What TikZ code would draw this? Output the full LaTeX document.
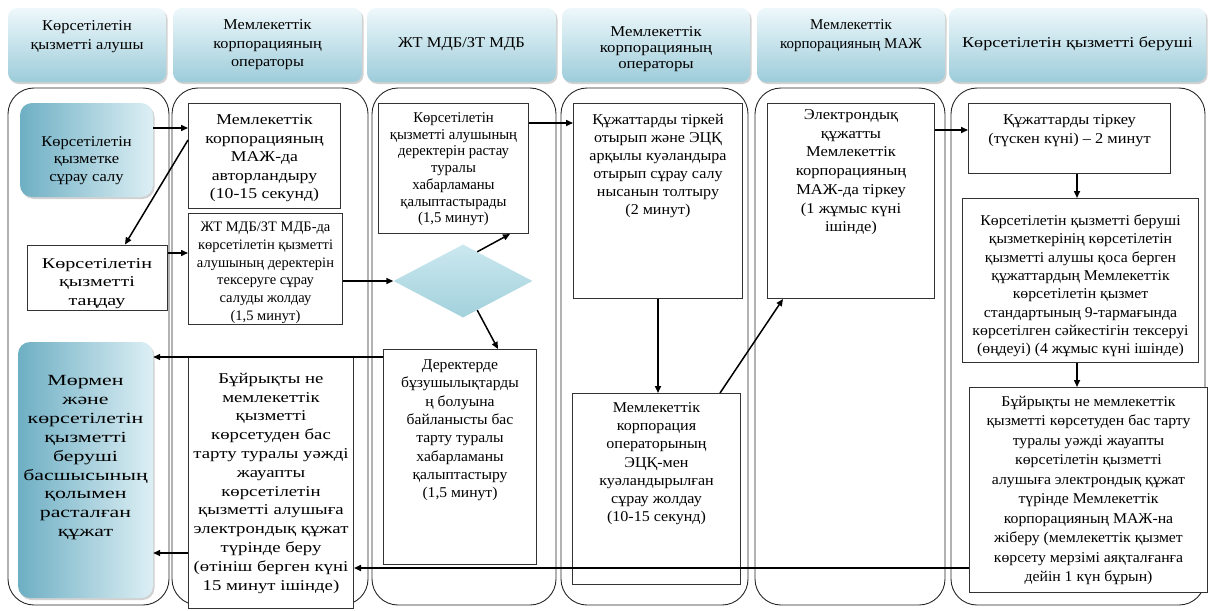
\documentclass[tikz,border=0pt]{standalone}
\usepackage{fontspec}
\setmainfont{Liberation Serif}
\usepackage{graphicx}
\usepackage{tikz}
\usetikzlibrary{arrows.meta,shapes.geometric,shadows}
\definecolor{headtop}{HTML}{EEF8FB}
\definecolor{headbot}{HTML}{9DCCDA}
\definecolor{tealdark}{HTML}{6EAFC3}
\definecolor{teallight}{HTML}{DDEFF5}
\definecolor{rhombtop}{HTML}{CBE8EF}
\definecolor{rhombbot}{HTML}{A2D1DC}
\tikzset{>/.tip={Triangle[length=7pt,width=6pt]},
  every node/.style={font=\fontsize{15}{18.5}\selectfont},
  head/.style={rounded corners=9pt, top color=headtop, bottom color=headbot, inner sep=0pt, minimum height=74pt,
    drop shadow={shadow xshift=1.5pt, shadow yshift=-2pt, opacity=0.3, fill=black!60}},
  client/.style={rounded corners=12pt, left color=tealdark, right color=teallight, inner sep=0pt,
    drop shadow={shadow xshift=1.5pt, shadow yshift=-2pt, opacity=0.3, fill=black!60}},
  lane/.style={draw=black!85, line width=0.9pt, rounded corners=26pt},
  task/.style={draw=black!80, line width=1pt, fill=white, inner sep=3pt, anchor=north west},
  rhomb/.style={diamond, aspect=1.9, inner sep=0pt, top color=rhombtop, bottom color=rhombbot},
  flow/.style={->, line width=1.5pt}}
\newcommand{\headtxt}[3][0pt]{\raisebox{#1}[0pt][0pt]{\scalebox{#2}[1]{\begin{tabular}{@{}c@{}}#3\end{tabular}}}}
\newcommand{\boxtxt}[5][t]{\parbox[t][#3][#1]{#2}{\centering\scalebox{#4}[1]{\begin{tabular}[t]{@{}c@{}}#5\end{tabular}}}}

\begin{document}
\begin{tikzpicture}[x=1pt, y=-1pt]
\useasboundingbox (0,0) rectangle (1209,610);
\node[head, minimum width=158pt] (h1) at (87,45) {\headtxt[5pt]{1.09}{Көрсетілетін\\ қызметті алушы}};
\node[head, minimum width=189pt] (h2) at (267.5,45) {\headtxt[-3pt]{1.08}{Мемлекеттік\\ корпорацияның\\ операторы}};
\node[head, minimum width=189pt] (h3) at (461.5,45) {\headtxt[-2pt]{1.1}{ЖТ МДБ/ЗТ МДБ}};
\node[head, minimum width=188pt, font=\fontsize{15}{16}\selectfont] (h4) at (656,45) {\headtxt[-8pt]{1.12}{Мемлекеттік\\ корпорацияның\\ операторы}};
\node[head, minimum width=188pt] (h5) at (851,45) {\headtxt[6pt]{1.0}{Мемлекеттік\\ корпорацияның МАЖ}};
\node[head, minimum width=257pt] (h6) at (1077.5,45) {\headtxt[-2pt]{1.21}{Көрсетілетін қызметті беруші}};

\draw[lane] (8,88) rectangle (169,605);
\draw[lane] (172,88) rectangle (368,605);
\draw[lane] (372,88) rectangle (556,605);
\draw[lane] (561,88) rectangle (748,605);
\draw[lane] (755,88) rectangle (945,605);
\draw[lane] (951,88) rectangle (1205,605);

\node[client, minimum width=133pt, minimum height=94pt, font=\fontsize{15}{17.5}\selectfont] (req) at (86.5,150) {\headtxt[-14pt]{1.1}{Көрсетілетін\\ қызметке\\ сұрау салу}};
\node[draw=black!80, line width=1pt, fill=white, inner sep=0pt, minimum width=140pt, minimum height=65pt] (choose) at (97,277.5) {\headtxt[-9pt]{1.34}{Көрсетілетін\\ қызметті\\ таңдау}};
\node[client, minimum width=135pt, minimum height=256pt, font=\fontsize{15.5}{18.9}\selectfont] (result) at (85.5,470) {\headtxt[9pt]{1.41}{Мөрмен\\ және\\ көрсетілетін\\ қызметті\\ беруші\\ басшысының\\ қолымен\\ расталған\\ құжат}};

\node[task] (auth) at (188,103) {\boxtxt{146pt}{99pt}{1.18}{\rule{0pt}{18pt}Мемлекеттік\\ корпорацияның\\ МАЖ-да\\ авторландыру\\ (10-15 секунд)}};
\node[task, font=\fontsize{14.5}{17.8}\selectfont] (query) at (188,213) {\boxtxt{148pt}{105pt}{1.0}{\rule{0pt}{15pt}ЖТ МДБ/ЗТ МДБ-да\\ көрсетілетін қызметті\\ алушының деректерін\\ тексеруге сұрау\\ салуды жолдау\\ (1,5 минут)}};
\node[task, font=\fontsize{15}{18.8}\selectfont] (answer) at (188,357) {\boxtxt[c]{159pt}{245pt}{1.25}{Бұйрықты не\\ мемлекеттік\\ қызметті\\ көрсетуден бас\\ тарту туралы уәжді\\ жауапты\\ көрсетілетін\\ қызметті алушыға\\ электрондық құжат\\ түрінде беру\\ (өтініш берген күні\\ 15 минут ішінде)}};

\node[task, font=\fontsize{15}{16.7}\selectfont] (confirm) at (378,103) {\boxtxt{144pt}{124pt}{0.98}{\rule{0pt}{16pt}Көрсетілетін\\ қызметті алушының\\ деректерін растау\\ туралы\\ хабарламаны\\ қалыптастырады\\ (1,5 минут)}};
\node[rhomb, minimum width=139pt, minimum height=73pt] (dia) at (463,281) {};
\node[task, font=\fontsize{15}{18.3}\selectfont] (reject) at (383,349) {\boxtxt{147pt}{209pt}{1.04}{\rule{0pt}{17pt}Деректерде\\ бұзушылықтарды\\ ң болуына\\ байланысты бас\\ тарту туралы\\ хабарламаны\\ қалыптастыру\\ (1,5 минут)}};

\node[task, font=\fontsize{15}{18}\selectfont] (fill) at (573,103) {\boxtxt{163pt}{189pt}{1.07}{\rule{0pt}{18pt}Құжаттарды тіркей\\ отырып және ЭЦҚ\\ арқылы куәландыра\\ отырып сұрау салу\\ нысанын толтыру\\ (2 минут)}};
\node[task, font=\fontsize{15}{18.2}\selectfont] (sign) at (572,393) {\boxtxt{162pt}{185pt}{1.07}{\rule{0pt}{16pt}Мемлекеттік\\ корпорация\\ операторының\\ ЭЦҚ-мен\\ куәландырылған\\ сұрау жолдау\\ (10-15 секунд)}};

\node[task, font=\fontsize{15}{18.7}\selectfont] (reg) at (767,103) {\boxtxt{161pt}{189pt}{1.1}{Электрондық\\ құжатты\\ Мемлекеттік\\ корпорацияның\\ МАЖ-да тіркеу\\ (1 жұмыс күні\\ ішінде)}};

\node[task] (regdoc) at (968,103) {\boxtxt{196pt}{64pt}{1.09}{\rule{0pt}{18pt}Құжаттарды тіркеу\\ (түскен күні) – 2 минут}};
\node[task, font=\fontsize{15}{18.3}\selectfont] (check) at (962,198) {\boxtxt{230pt}{158pt}{1.05}{\rule{0pt}{24pt}Көрсетілетін қызметті беруші\\ қызметкерінің көрсетілетін\\ қызметті алушы қоса берген\\ құжаттардың Мемлекеттік\\ көрсетілетін қызмет\\ стандартының 9-тармағында\\ көрсетілген сәйкестігін тексеруі\\ (өңдеуі) (4 жұмыс күні ішінде)}};
\node[task, font=\fontsize{15}{19.5}\selectfont] (send) at (969,387) {\boxtxt[c]{232pt}{199pt}{1.05}{Бұйрықты не мемлекеттік\\ қызметті көрсетуден бас тарту\\ туралы уәжді жауапты\\ көрсетілетін қызметті\\ алушыға электрондық құжат\\ түрінде Мемлекеттік\\ корпорацияның МАЖ-на\\ жіберу (мемлекеттік қызмет\\ көрсету мерзімі аяқталғанға\\ дейін 1 күн бұрын)}};

\draw[flow] (req.east |- 0,128) to (auth.west |- 0,128);
\draw[flow] (auth.west |- 0,140) to (125,0 |- choose.north);
\draw[flow] (choose.east |- 0,253) to (query.west |- 0,253);
\draw[flow] (query.east |- dia.west) to (dia.west);
\draw[flow] (dia.64) to (510,0 |- confirm.south);
\draw[flow] (confirm.east |- 0,123) to (fill.west |- 0,123);
\draw[flow] (dia.-64) to (498,0 |- reject.north);
\draw[flow] (reject.west |- 0,357) to (result.east |- 0,357);
\draw[flow] (answer.west |- 0,553) to (result.east |- 0,553);
\draw[flow] (fill.south) to (fill.south |- sign.north);
\draw[flow] (720,0 |- sign.north) to (783,0 |- reg.south);
\draw[flow] (reg.east |- 0,130) to (regdoc.west |- 0,130);
\draw[flow] (1077,0 |- regdoc.south) to (1077,0 |- check.north);
\draw[flow] (1077,0 |- check.south) to (1077,0 |- send.north);
\draw[flow] (send.west |- 0,568) to (answer.east |- 0,568);
\end{tikzpicture}
\end{document}
